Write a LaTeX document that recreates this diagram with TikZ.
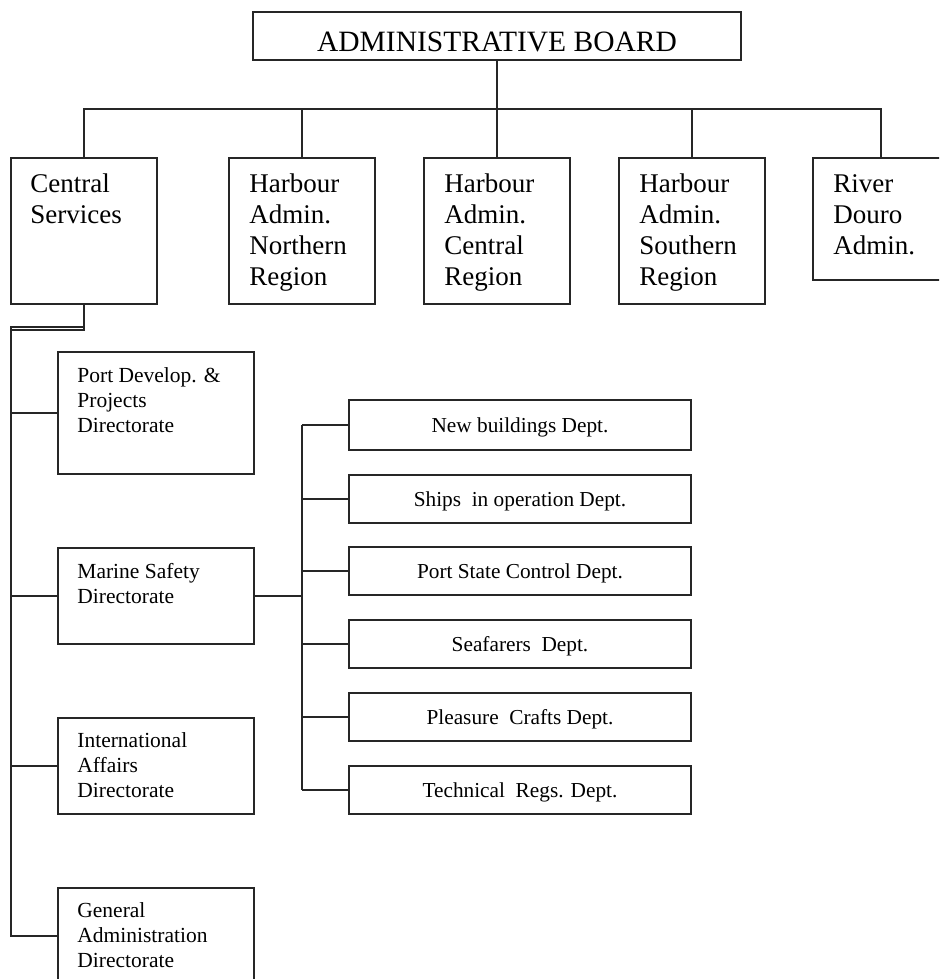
\documentclass[tikz,border=0pt]{standalone}
\usepackage{fontspec}
\setmainfont{Liberation Serif}
\usetikzlibrary{calc}
\newcommand\topblock[1]{\parbox[t]{8cm}{\raggedright #1}}
\begin{document}
\begin{tikzpicture}[x=1pt,y=-1pt,
  box/.style={draw=black!85, line width=1.6pt, inner sep=0pt, rectangle},
  ln/.style={draw=black!85, line width=1.6pt},
  boardtxt/.style={font=\fontsize{29.5}{34}\selectfont, anchor=base, inner sep=0pt},
  toptxt/.style={font=\fontsize{27}{31}\selectfont, anchor=base west, inner sep=0pt},
  dirtxt/.style={font=\fontsize{21.5}{25}\selectfont, anchor=base west, inner sep=0pt},
  dept/.style={box, minimum width=342pt, minimum height=48pt,
    font=\fontsize{21.3}{25}\selectfont, text height=14pt, text depth=0pt}]
\useasboundingbox (0,0) rectangle (939,979);
\clip (0,0) rectangle (939,979);

% top board
\node[box, minimum width=488pt, minimum height=48pt] (board) at (497,36) {};
\node[boardtxt] (boardt) at (497,52) {ADMINISTRATIVE BOARD};

% first row
\node[box, minimum width=146pt, minimum height=146pt] (cs) at (84,231) {};
\node[box, minimum width=146pt, minimum height=146pt] (hn) at (302,231) {};
\node[box, minimum width=146pt, minimum height=146pt] (hc) at (497,231) {};
\node[box, minimum width=146pt, minimum height=146pt] (hs) at (692,231) {};
\node[box, minimum width=136pt, minimum height=122pt] (rd) at (881,219) {};

\node[toptxt] (cst) at ($(cs.north west)+(20,35)$) {\topblock{Central\\Services}};
\node[toptxt] (hnt) at ($(hn.north west)+(21,35)$) {\topblock{Harbour\\Admin.\\Northern\\Region}};
\node[toptxt] (hct) at ($(hc.north west)+(21,35)$) {\topblock{Harbour\\Admin.\\Central\\Region}};
\node[toptxt] (hst) at ($(hs.north west)+(21,35)$) {\topblock{Harbour\\Admin.\\Southern\\Region}};
\node[toptxt] (rdt) at ($(rd.north west)+(21,35)$) {\topblock{River\\Douro\\Admin.}};

\coordinate (bus) at (497,109);
\draw[ln] (board.south) -- (board.south |- bus);
\draw[ln] (cs.north) -- (cs.north |- bus) -- (rd.north |- bus) -- (rd.north);
\draw[ln] (hn.north) -- (hn.north |- bus);
\draw[ln] (hc.north) -- (hc.north |- bus);
\draw[ln] (hs.north) -- (hs.north |- bus);

% directorates
\node[box, minimum width=196pt, minimum height=122pt] (pd) at (156,413) {};
\node[box, minimum width=196pt, minimum height=96pt] (ms) at (156,596) {};
\node[box, minimum width=196pt, minimum height=96pt] (ia) at (156,766) {};
\node[box, minimum width=196pt, minimum height=96pt] (ga) at (156,936) {};

\node[dirtxt] (pdt) at ($(pd.north west)+(20,31)$) {\topblock{Port Develop. \&\\Projects\\Directorate}};
\node[dirtxt] (mst) at ($(ms.north west)+(20,31)$) {\topblock{Marine Safety\\Directorate}};
\node[dirtxt] (iat) at ($(ia.north west)+(20,30)$) {\topblock{International\\Affairs\\Directorate}};
\node[dirtxt] (gat) at ($(ga.north west)+(20,30)$) {\topblock{General\\Administration\\Directorate}};

\coordinate (ya) at (0,330);
\coordinate (yb) at (0,327);
\coordinate (lv) at (11,330);
\draw[ln] (cs.south) -- (cs.south |- ya) -- (lv);
\draw[ln] (cs.south |- yb) -- (lv |- yb) -- (lv |- ga.west) -- (ga.west);
\draw[ln] (pd.west) -- (pd.west -| lv);
\draw[ln] (ms.west) -- (ms.west -| lv);
\draw[ln] (ia.west) -- (ia.west -| lv);

% departments
\node[dept, minimum height=50pt] (d1) at (520,425) {New buildings Dept.};
\node[dept] (d2) at (520,499) {Ships\ \ in operation Dept.};
\node[dept] (d3) at (520,571) {Port State Control Dept.};
\node[dept] (d4) at (520,644) {Seafarers\ \ Dept.};
\node[dept] (d5) at (520,717) {Pleasure\ \ Crafts Dept.};
\node[dept] (d6) at (520,790) {Technical\ \ Regs. Dept.};

\coordinate (vb) at (302,0);
\draw[ln] (ms.east) -- (ms.east -| vb);
\draw[ln] (d1.west -| vb) -- (d6.west -| vb);
\foreach \d in {d1,d2,d3,d4,d5,d6} {
  \draw[ln] (\d.west) -- (\d.west -| vb);
}
\end{tikzpicture}
\end{document}
